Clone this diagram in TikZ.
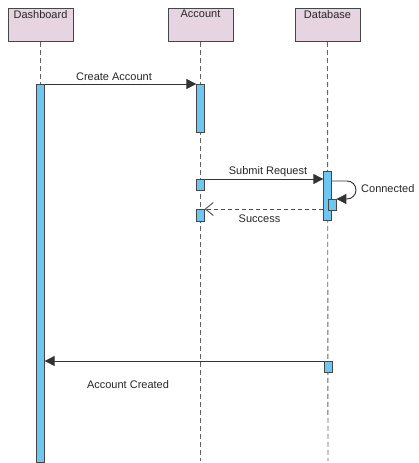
\documentclass[tikz,border=0pt]{standalone}
\usepackage{fontspec}
\setmainfont{Liberation Sans}
\usetikzlibrary{arrows.meta}
\definecolor{hdrfill}{RGB}{230,212,225}
\definecolor{barfill}{RGB}{108,200,240}
\definecolor{edgegray}{RGB}{70,70,70}
\definecolor{lifegray}{RGB}{100,100,100}
\begin{document}
\begin{tikzpicture}[x=1pt,y=-1pt,
  font=\fontsize{11}{13}\selectfont,
  header/.style={draw=edgegray,fill=hdrfill,line width=0.9pt,minimum width=65pt,minimum height=33pt,inner sep=0pt,anchor=north},
  hdrtext/.style={anchor=north,inner sep=0pt,text=black!85},
  lifeline/.style={draw=lifegray,dashed,dash pattern=on 5pt off 3pt,line width=0.9pt},
  actbar/.style={draw=edgegray,fill=barfill,line width=0.8pt,minimum width=7.5pt,inner sep=0pt,anchor=north},
  msg/.style={draw=black!80,line width=0.9pt,-{Triangle[length=10pt,width=10pt]}},
  retmsg/.style={draw=black!70,line width=0.9pt,dashed,dash pattern=on 4pt off 3pt,-{Straight Barb[length=8pt,width=13pt]}},
  lbl/.style={inner sep=0pt,text=black!85}]
\useasboundingbox (0,0) rectangle (418,463);
% headers
\node[header] (hdash) at (40.5,8) {};
\node[header] (hacc) at (200.5,8) {};
\node[header] (hdb) at (327.5,8) {};
\node[hdrtext] (tdash) at (40.5,10) {Dashboard};
\node[hdrtext] (tacc) at (200.5,10) {Account};
\node[hdrtext] (tdb) at (327.5,10) {Database};
% lifeline ends
\coordinate (edash) at (40.5,461);
\coordinate (eacc) at (200.5,461);
\coordinate (edb) at (328,461);
\draw[lifeline] (hdash.south) -- (edash);
\draw[lifeline] (hacc.south) -- (eacc);
\draw[lifeline] (hdb.south) -- (edb);
% activation bars
\node[actbar,minimum height=378pt] (dbar) at (40.5,84) {};
\node[actbar,minimum height=48pt] (abar1) at (200.5,84) {};
\node[actbar,minimum height=11pt] (abox1) at (200.5,179) {};
\node[actbar,minimum height=12pt] (abox2) at (200.5,209) {};
\node[actbar,minimum height=49pt] (dbbar) at (327.5,171) {};
\node[actbar,minimum height=11pt,minimum width=8pt] (dbinner) at (332,199) {};
\node[actbar,minimum height=11pt,minimum width=8pt] (dbbox2) at (328,361) {};
% messages
\draw[msg] (dbar.north east) -- (abar1.north west);
\node[lbl] (lcreate) at (114,77) {Create Account};
\draw[msg] (abox1.north east) -- (dbbar.west |- abox1.north);
\node[lbl] (lsubmit) at (268,171.5) {Submit Request};
\coordinate (selfa) at (356,181);
\coordinate (selfb) at (356,199);
\draw[msg,rounded corners=9pt] (dbbar.east |- selfa) -- (selfa) -- (selfb) -- (dbinner.north east);
\node[lbl,anchor=west] (lconn) at (361,189) {Connected};
\draw[retmsg] (dbbar.west |- abox2.north) -- (abox2.north east);
\node[lbl] (lsucc) at (259.5,219) {Success};
\draw[msg] (dbbox2.north west) -- (dbar.east |- dbbox2.north);
\node[lbl] (lcreated) at (128,385) {Account Created};
\end{tikzpicture}
\end{document}
